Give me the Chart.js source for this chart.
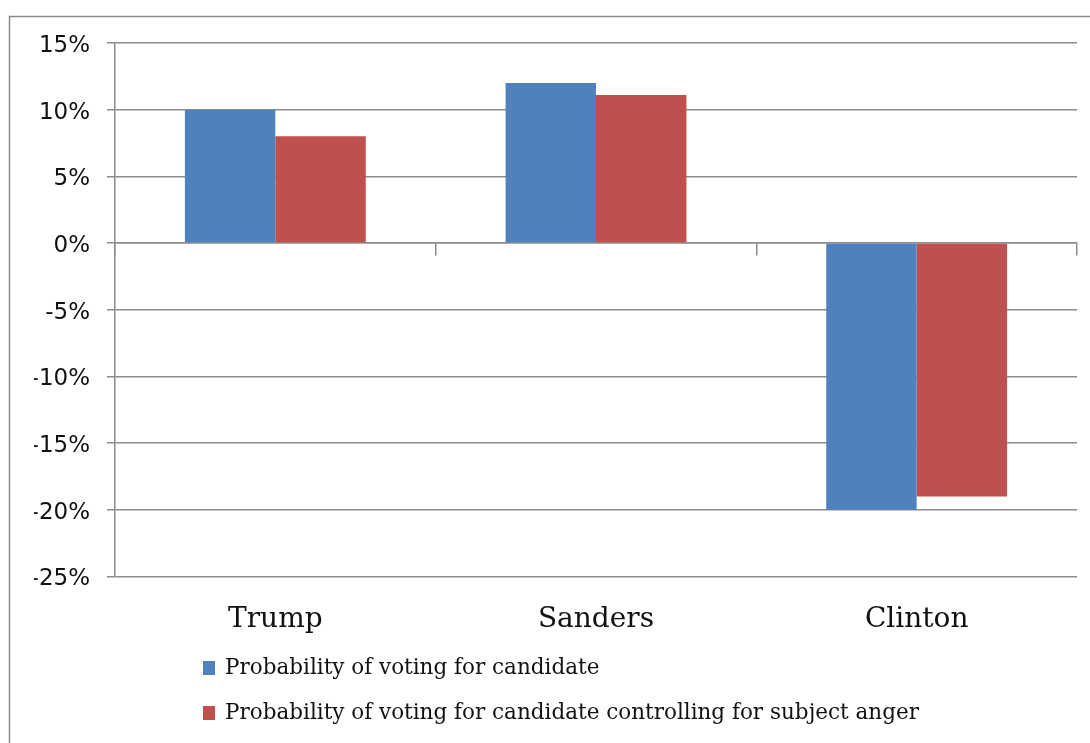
<!DOCTYPE html>
<html>
<head>
<meta charset="utf-8">
<script src="https://cdn.jsdelivr.net/npm/chart.js@4"></script>
<style>
html,body{margin:0;padding:0;background:#fff;}
#wrap{position:relative;width:1090px;height:743px;}
</style>
</head>
<body>
<div id="wrap"><canvas id="chart"></canvas></div>
<script>
const candidates = ["Trump", "Sanders", "Clinton"]
const votingProb = [10, 12, -20]
const votingProbAnger = [8, 11.1, -19]
const seriesNames = [
"Probability of voting for candidate",
"Probability of voting for candidate controlling for subject anger"
]
const yTicks = [15, 10, 5, 0, -5, -10, -15, -20, -25]

const gridGray = "#8c8c8c"

// outer frame of the chart
const framePlugin = {
id:"frame",
beforeDraw(chart){
const ctx = chart.ctx
ctx.save()
ctx.fillStyle = "#fff"
ctx.fillRect(0,0,chart.width,chart.height)
ctx.strokeStyle = "#8a8a8a"
ctx.lineWidth = 1.5
ctx.strokeRect(9.5,16.5,chart.width+50,chart.height+50)
ctx.restore()
}
}

// legend stacked under the axis labels
const legendPlugin = {
id:"stackLegend",
afterDraw(chart){
const ctx = chart.ctx
ctx.save()
ctx.font = "21.5px 'DejaVu Serif'"
ctx.textBaseline = "middle"
chart.data.datasets.forEach((ds,i) => {
const y = 668 + i*45
ctx.fillStyle = ds.backgroundColor
ctx.fillRect(203, y-7, 12, 14)
ctx.fillStyle = "#111"
ctx.fillText(ds.label, 225, y)
})
ctx.restore()
}
}

new Chart(document.getElementById("chart"),{
type:"bar",
data:{
labels:candidates,
datasets:[{
label:seriesNames[0],
data:votingProb,
backgroundColor:"#4f81bd"
},{
label:seriesNames[1],
data:votingProbAnger,
backgroundColor:"#c0504d"
}]
},
options:{
responsive:true,
maintainAspectRatio:false,
animation:false,
layout:{padding:{top:43,left:34,right:13,bottom:87}},
categoryPercentage:0.564,
barPercentage:1,
plugins:{
legend:{display:false},
tooltip:{enabled:false}
},
scales:{
x:{
offset:true,
grid:{display:false},
border:{display:false},
ticks:{
padding:19,
color:"#111",
font:{family:"'DejaVu Serif'",size:28}
}
},
x2:{
type:"category",
position:{y:0},
offset:true,
grid:{offset:true,drawOnChartArea:false,tickLength:12,color:gridGray,lineWidth:1.5},
border:{display:true,color:gridGray,width:1.5},
ticks:{display:false}
},
y:{
min:-25,
max:15,
afterBuildTicks(scale){
scale.ticks = yTicks.map(v => ({value:v}))
},
afterFit(scale){
scale.width = 81
},
grid:{color:gridGray,lineWidth:1.5,tickLength:8},
border:{display:true,color:gridGray,width:1.5},
ticks:{
padding:17,
labelOffset:3,
color:"#111",
font:{family:"'DejaVu Sans'",size:23},
callback:v => v + "%"
}
}
}
},
plugins:[framePlugin,legendPlugin]
})
</script>
</body>
</html>
